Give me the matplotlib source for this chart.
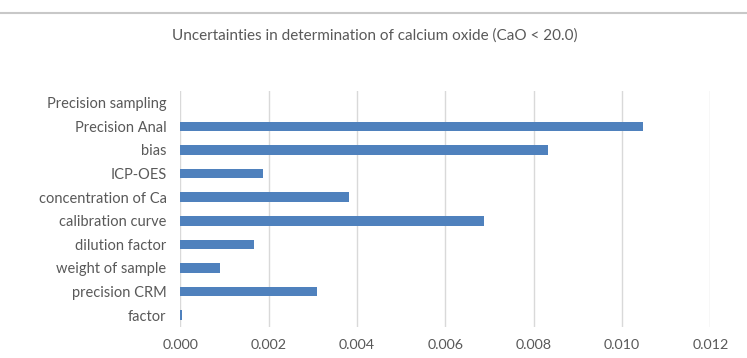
import matplotlib
matplotlib.use("Agg")
import matplotlib.pyplot as plt
from matplotlib.lines import Line2D

categories = ["Precision sampling", "Precision Anal", "bias", "ICP-OES",
              "concentration of Ca", "calibration curve", "dilution factor",
              "weight of sample", "precision CRM", "factor"]
values = [0.0, 0.01048, 0.00832, 0.00188, 0.00382, 0.00687, 0.00167,
          0.00090, 0.00309, 0.00004]
xticks = [0.000, 0.002, 0.004, 0.006, 0.008, 0.010, 0.012]

plt.rcParams['font.family'] = ['Lato', 'DejaVu Sans']

fig = plt.figure(figsize=(7.47, 3.58), dpi=100)
ax = fig.add_axes([0.2416, 0.0866, 0.7094, 0.6593])

y = list(range(len(categories)))
ax.barh(y, values, height=0.4, color="#4F81BD", zorder=3)
ax.set_ylim(len(categories) - 0.5, -0.5)
ax.set_yticks(y)
ax.set_yticklabels(categories)
ax.set_xlim(0, 0.012)
ax.set_xticks(xticks)
ax.set_xticklabels([f"{t:.3f}" for t in xticks])
ax.grid(axis="x", color="#D9D9D9", linewidth=1, zorder=0)
for s in ax.spines.values():
    s.set_visible(False)
ax.tick_params(axis="y", length=0, labelsize=10.5, colors="#595959", pad=10)
ax.tick_params(axis="x", length=0, labelsize=10.3, colors="#595959", pad=9)

fig.text(0.502, 0.9, "Uncertainties in determination of calcium oxide (CaO < 20.0)",
         ha="center", va="center", fontsize=11, color="#595959")
fig.add_artist(Line2D([0, 1], [0.9623, 0.9623], color="#C8C8C8", linewidth=1.5,
                      transform=fig.transFigure))

fig.savefig("out.png", dpi=100)
